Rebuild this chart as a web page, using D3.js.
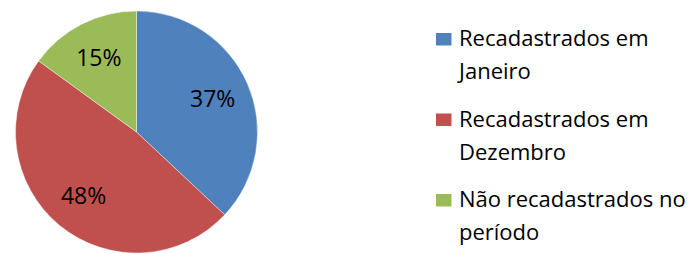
<!DOCTYPE html>
<html>
<head>
<meta charset="utf-8">
<script src="https://cdn.jsdelivr.net/npm/d3@7"></script>
<style>
  body { margin: 0; background: #fff; }
  svg text { font-family: "Open Sans", sans-serif; fill: #000; }
</style>
</head>
<body>
<div id="chart"></div>
<script>
// data
var categories = ["Recadastrados em Janeiro", "Recadastrados em Dezembro", "Não recadastrados no período"];
var legendLines = [["Recadastrados em", "Janeiro"], ["Recadastrados em", "Dezembro"], ["Não recadastrados no", "período"]];
var values = [37, 48, 15];
var colors = ["#4F81BD", "#C0504D", "#9BBB59"];

var width = 700, height = 254;
var cx = 136.5, cy = 132, radius = 121;

var svg = d3.select("#chart")
  .append("svg")
    .attr("width", width)
    .attr("height", height);

var total = d3.sum(values);
var data = categories.map(function(c, i){ return {name: c, value: values[i], color: colors[i], lines: legendLines[i]}; });

var pie = d3.pie()
  .sort(null)
  .value(d => d.value);

var arc = d3.arc()
  .innerRadius(0)
  .outerRadius(radius);

// labels sit about two thirds of the way out
var labelArc = d3.arc()
  .innerRadius(83)
  .outerRadius(83);

var g = svg.append("g")
  .attr("transform", "translate(" + cx + "," + cy + ")");

g.selectAll("path")
  .data(pie(data))
  .enter()
  .append("path")
    .attr("d", arc)
    .attr("fill", d => d.data.color)
    .attr("stroke", "#fff")
    .attr("stroke-width", 0.4);

g.selectAll("text.pct")
  .data(pie(data))
  .enter()
  .append("text")
    .attr("class", "pct")
    .attr("transform", d => "translate(" + labelArc.centroid(d) + ")")
    .attr("text-anchor", "middle")
    .attr("dy", "0.36em")
    .style("font-size", "23px")
    .text(d => Math.round(d.data.value / total * 100) + "%");

// legend
var legend = svg.selectAll("g.legend")
  .data(data)
  .enter()
  .append("g")
    .attr("class", "legend")
    .attr("transform", (d, i) => "translate(436," + (46 + i * 80.5) + ")");

legend.append("rect")
  .attr("x", 0)
  .attr("y", -13)
  .attr("width", 15.5)
  .attr("height", 12.5)
  .attr("fill", d => d.color);

legend.append("text")
  .attr("x", 23)
  .style("font-size", "22px")
  .selectAll("tspan")
  .data(d => d.lines)
  .enter()
  .append("tspan")
    .attr("x", 23)
    .attr("y", (d, i) => i * 33)
    .text(d => d);
</script>
</body>
</html>
